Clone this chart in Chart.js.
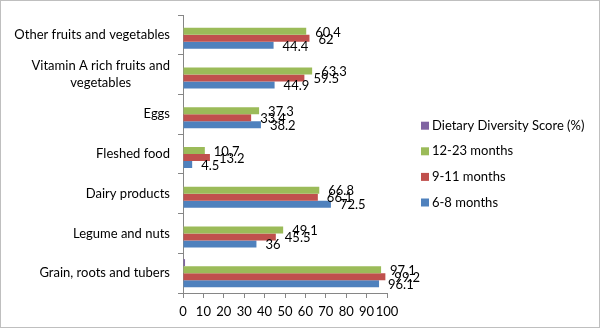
<!DOCTYPE html>
<html lang="en">
<head>
    <meta charset="UTF-8">
    <title>Food groups consumed by age</title>
    <style>
        body { margin: 0; background: #fff; }
        #chart { display: block; }
    </style>
</head>
<body>
    <canvas id="chart" width="600" height="329"></canvas>

    <script src="https://cdn.jsdelivr.net/npm/chart.js@4.4.0/dist/chart.umd.min.js"></script>
    <script>
        // categories, top to bottom
        let categories = [
            ["Other fruits and vegetables"],
            ["Vitamin A rich fruits and", "vegetables"],
            ["Eggs"],
            ["Fleshed food"],
            ["Dairy products"],
            ["Legume and nuts"],
            ["Grain, roots and tubers"],
        ];
        let seriesNames = ["Dietary Diversity Score (%)", "12-23 months", "9-11 months", "6-8 months"];
        let seriesColors = ["#8064a2", "#9bbb59", "#c0504d", "#4f81bd"];

        let dietaryDiversity = [null, null, null, null, null, null, 1];
        let months12to23 = [60.4, 63.3, 37.3, 10.7, 66.8, 49.1, 97.1];
        let months9to11 = [62, 59.5, 33.4, 13.2, 66.1, 45.5, 99.2];
        let months6to8 = [44.4, 44.9, 38.2, 4.5, 72.5, 36, 96.1];

        let xTicks = [0, 10, 20, 30, 40, 50, 60, 70, 80, 90, 100];

        let fontFamily = "Lato, 'Open Sans', sans-serif";
        let fontSize = 13;
        let axisColor = "#868686";

        // grey frame round the whole picture
        let frame = {
            id: 'frame',
            beforeDraw(chart) {
                let ctx = chart.ctx;
                ctx.save();
                ctx.fillStyle = "#fff";
                ctx.fillRect(0, 0, chart.width, chart.height);
                ctx.strokeStyle = "#bfbfbf";
                ctx.lineWidth = 1;
                ctx.strokeRect(0.5, 0.5, chart.width - 1, chart.height - 2);
                ctx.restore();
            }
        };

        // category names: lines centred inside a right aligned block
        let categoryLabels = {
            id: 'categoryLabels',
            afterDraw(chart) {
                let ctx = chart.ctx;
                let yScale = chart.scales.y;
                let right = yScale.right - 13;
                let lineHeight = 16.6;
                ctx.save();
                ctx.font = fontSize + "px " + fontFamily;
                ctx.fillStyle = "#000";
                ctx.textAlign = "center";
                ctx.textBaseline = "middle";
                categories.forEach((lines, i) => {
                    let y = yScale.getPixelForValue(i);
                    let widest = Math.max(...lines.map(l => ctx.measureText(l).width));
                    let cx = right - widest / 2;
                    let top = y - (lines.length - 1) * lineHeight / 2;
                    lines.forEach((line, k) => ctx.fillText(line, cx, top + k * lineHeight));
                });
                ctx.restore();
            }
        };

        // value labels just past the end of each bar
        let valueLabels = {
            id: 'valueLabels',
            afterDatasetsDraw(chart) {
                let ctx = chart.ctx;
                ctx.save();
                ctx.font = fontSize + "px " + fontFamily;
                ctx.fillStyle = "#000";
                ctx.textAlign = "left";
                ctx.textBaseline = "middle";
                chart.data.datasets.forEach((ds, d) => {
                    if (!ds.showValues) return;
                    chart.getDatasetMeta(d).data.forEach((bar, i) => {
                        let v = ds.data[i];
                        if (v === null) return;
                        ctx.fillText(String(v), bar.x + 9, bar.y + 1);
                    });
                });
                ctx.restore();
            }
        };

        // legend on the right, one entry per row
        let sideLegend = {
            id: 'sideLegend',
            afterDraw(chart) {
                let ctx = chart.ctx;
                let x = 421;
                let y = 125.7;
                let step = 25.6;
                ctx.save();
                ctx.font = fontSize + "px " + fontFamily;
                ctx.textAlign = "left";
                ctx.textBaseline = "middle";
                chart.data.datasets.forEach((ds, d) => {
                    let cy = y + d * step;
                    ctx.fillStyle = ds.backgroundColor;
                    ctx.fillRect(x, cy - 4, 8, 8);
                    ctx.fillStyle = "#000";
                    ctx.fillText(ds.label, x + 11, cy);
                });
                ctx.restore();
            }
        };

        let seriesData = [dietaryDiversity, months12to23, months9to11, months6to8];

        new Chart(document.getElementById('chart').getContext('2d'), {
            type: 'bar',
            data: {
                labels: categories,
                datasets: seriesData.map((values, d) => ({
                    label: seriesNames[d],
                    data: values,
                    backgroundColor: seriesColors[d],
                    borderWidth: 0,
                    categoryPercentage: 0.705,
                    barPercentage: 1,
                    showValues: d > 0,
                })),
            },
            options: {
                indexAxis: 'y',
                responsive: false,
                animation: false,
                layout: {
                    padding: { left: 0, top: 15, right: 213, bottom: 0 },
                },
                plugins: {
                    legend: { display: false },
                    tooltip: { enabled: false },
                },
                scales: {
                    x: {
                        min: 0,
                        max: 100,
                        afterBuildTicks: (scale) => {
                            scale.ticks = xTicks.map(v => ({ value: v }));
                        },
                        afterFit: (scale) => {
                            scale.height = 36;
                        },
                        border: { display: true, color: axisColor, width: 1 },
                        grid: {
                            drawOnChartArea: false,
                            drawTicks: true,
                            tickLength: 5,
                            color: axisColor,
                        },
                        ticks: {
                            autoSkip: false,
                            maxRotation: 0,
                            padding: 6,
                            color: "#000",
                            font: { family: fontFamily, size: fontSize },
                        },
                    },
                    y: {
                        afterFit: (scale) => {
                            scale.width = 183;
                        },
                        border: { display: true, color: axisColor, width: 1 },
                        grid: {
                            offset: true,
                            drawOnChartArea: false,
                            drawTicks: true,
                            tickLength: 5,
                            color: axisColor,
                        },
                        ticks: { display: false },
                    },
                },
            },
            plugins: [frame, categoryLabels, valueLabels, sideLegend],
        });
    </script>
</body>
</html>
